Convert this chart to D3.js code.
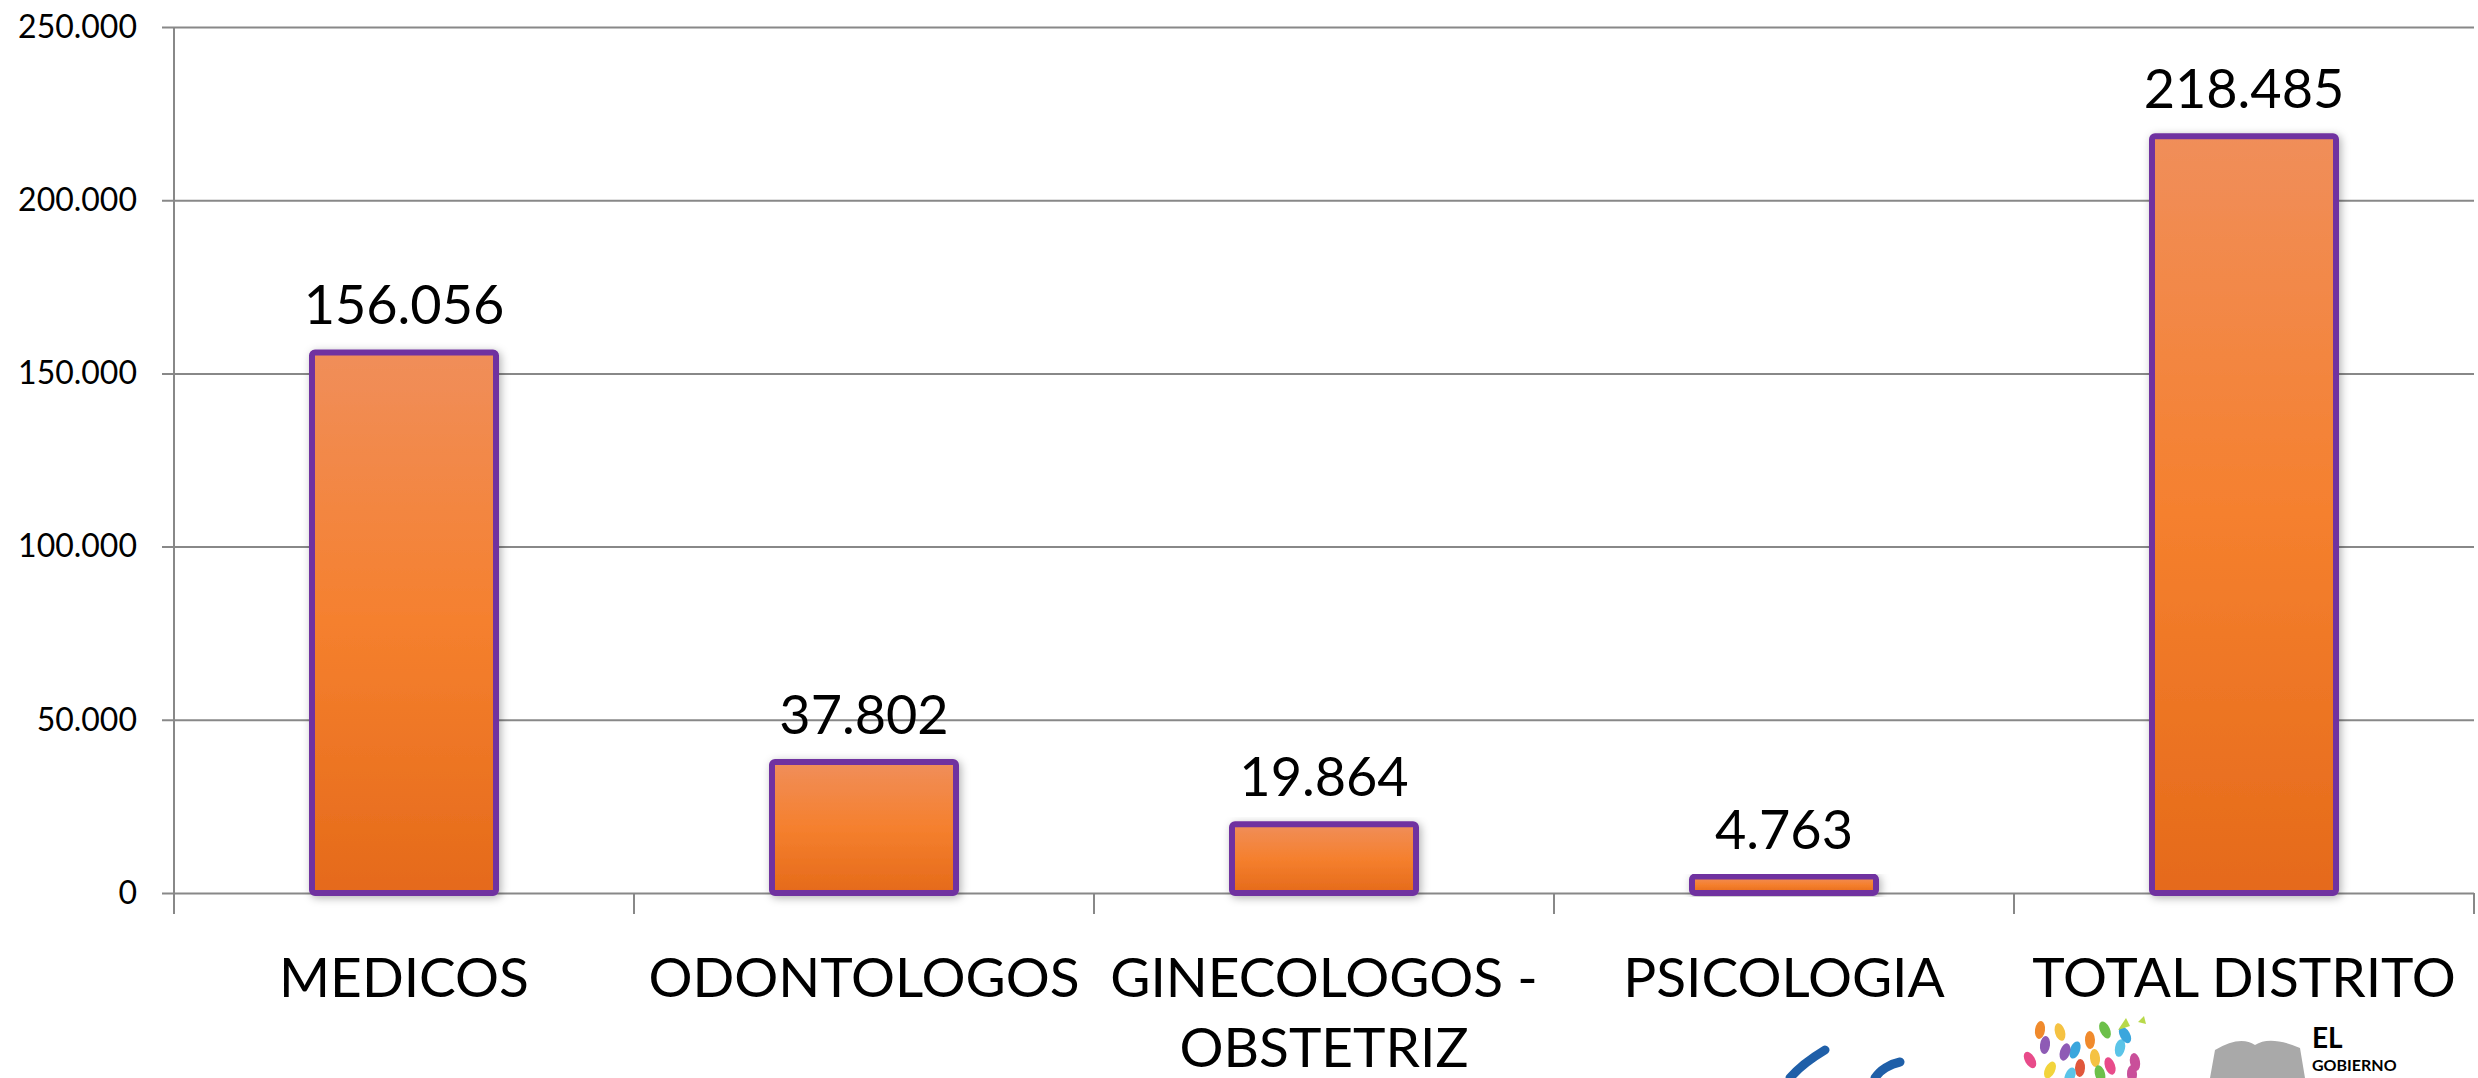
<!DOCTYPE html>
<html>
<head>
<meta charset="utf-8">
<script src="https://cdn.jsdelivr.net/npm/d3@7"></script>
<style>
  html, body { margin: 0; padding: 0; background: #fff; }
  svg { display: block; }
  text { font-family: Lato, "Open Sans", sans-serif; fill: #000; }
</style>
</head>
<body>
<svg id="chart" width="2478" height="1078"></svg>
<script>
// ---- data ----
const categories = ["MEDICOS", "ODONTOLOGOS", "GINECOLOGOS - OBSTETRIZ", "PSICOLOGIA", "TOTAL DISTRITO"];
const values = [156056, 37802, 19864, 4763, 218485];
const yTicks = [0, 50000, 100000, 150000, 200000, 250000];

(function () {
// ---- layout ----
const plotLeft = 174, plotRight = 2474, plotTop = 27, zeroY = 893;

const locale = d3.formatLocale({ decimal: ",", thousands: ".", grouping: [3], currency: ["", ""] });
const fmt = locale.format(",d");

const svg = d3.select("#chart");
const defs = svg.append("defs");

const grad = defs.append("linearGradient")
  .attr("id", "barGrad").attr("x1", 0).attr("y1", 0).attr("x2", 0).attr("y2", 1);
grad.append("stop").attr("offset", "0%").attr("stop-color", "#F08E5A");
grad.append("stop").attr("offset", "50%").attr("stop-color", "#F5802E");
grad.append("stop").attr("offset", "100%").attr("stop-color", "#E56A1A");

const shadow = defs.append("filter").attr("id", "shadow")
  .attr("x", "-10%").attr("y", "-10%").attr("width", "130%").attr("height", "130%");
shadow.append("feDropShadow").attr("dx", 2).attr("dy", 2).attr("stdDeviation", 4)
  .attr("flood-color", "#000").attr("flood-opacity", 0.3);

const y = d3.scaleLinear().domain([0, 250000]).range([zeroY, plotTop]);
const x = d3.scaleBand().domain(categories).range([plotLeft, plotRight])
  .paddingInner(0.6).paddingOuter(0.3);

const axisColor = "#888888";

// gridlines + y tick labels
const gy = svg.append("g").attr("transform", `translate(${plotLeft - 12},0)`)
  .call(d3.axisLeft(y).tickValues(yTicks).tickFormat(fmt)
    .tickSizeInner(-(plotRight - plotLeft + 12)).tickSizeOuter(0).tickPadding(25));
gy.select(".domain").remove();
gy.selectAll(".tick line").attr("stroke", axisColor).attr("stroke-width", 2);
gy.selectAll(".tick text")
  .style("font-family", "Lato, 'Open Sans', sans-serif")
  .style("font-size", "32px").attr("fill", "#000");

// y axis line
svg.append("line")
  .attr("x1", plotLeft).attr("x2", plotLeft).attr("y1", plotTop).attr("y2", zeroY + 21)
  .attr("stroke", axisColor).attr("stroke-width", 2);

// x axis category boundary ticks
const step = x.step();
const boundaries = categories.map(c => x(c) - step * x.paddingInner() / 2);
boundaries.push(x(categories[categories.length - 1]) + x.bandwidth() + step * x.paddingInner() / 2);
svg.append("g").selectAll("line").data(boundaries).join("line")
  .attr("x1", d => d).attr("x2", d => d)
  .attr("y1", zeroY).attr("y2", zeroY + 21)
  .attr("stroke", axisColor).attr("stroke-width", 2);

// category labels via axis
const gx = svg.append("g").attr("transform", `translate(0,${zeroY})`)
  .call(d3.axisBottom(x).tickSize(0).tickPadding(0));
gx.select(".domain").remove();
gx.selectAll(".tick text")
  .style("font-family", "Lato, 'Open Sans', sans-serif")
  .style("font-size", "55px").attr("fill", "#000")
  .attr("y", 104).attr("dy", 0)
  .each(function (d) {
    const t = d3.select(this);
    const words = d.split(" ");
    const maxW = step;
    t.text(null);
    let line = [];
    const lines = [];
    const tsp = t.append("tspan").attr("x", 0);
    words.forEach(w => {
      line.push(w);
      tsp.text(line.join(" "));
      if (tsp.node().getComputedTextLength() > maxW && line.length > 1) {
        line.pop();
        lines.push(line.join(" "));
        line = [w];
      }
    });
    lines.push(line.join(" "));
    t.text(null);
    lines.forEach((l, i) => {
      t.append("tspan").attr("x", 0).attr("y", 104 + i * 70).text(l);
    });
  });

// bars
svg.append("g").selectAll("rect").data(values).join("rect")
  .attr("x", (d, i) => x(categories[i]))
  .attr("width", x.bandwidth())
  .attr("y", d => y(d))
  .attr("height", d => y(0) - y(d))
  .attr("rx", 3).attr("ry", 3)
  .attr("fill", "url(#barGrad)")
  .attr("stroke", "#7030A0").attr("stroke-width", 6)
  .attr("filter", "url(#shadow)");

// value labels
svg.append("g").selectAll("text").data(values).join("text")
  .attr("x", (d, i) => x(categories[i]) + x.bandwidth() / 2)
  .attr("y", d => y(d) - 28)
  .attr("text-anchor", "middle")
  .style("font-size", "54px")
  .text(d => fmt(d));

// partial logos at bottom right (decorative)
const logos = svg.append("g");
logos.append("path")
  .attr("d", "M1790,1078 C1800,1066 1815,1056 1825,1050 M1875,1078 C1880,1070 1890,1064 1900,1062")
  .attr("stroke", "#1f5fa8").attr("stroke-width", 9).attr("fill", "none").attr("stroke-linecap", "round");
const leafColors = ["#e84b8a", "#8e5bb5", "#f5c242", "#3aa6dd", "#f08a2c", "#6cc04a", "#5bc4e8", "#c94f9a", "#f2d43c", "#e0573c"];
const leaves = [
  [2030, 1060], [2045, 1045], [2060, 1032], [2075, 1050], [2090, 1040], [2105, 1030], [2120, 1048],
  [2135, 1062], [2050, 1070], [2080, 1068], [2110, 1066], [2065, 1052], [2095, 1058], [2125, 1035],
  [2040, 1030], [2100, 1074], [2070, 1076], [2132, 1074]
];
logos.selectAll("ellipse").data(leaves).join("ellipse")
  .attr("cx", d => d[0]).attr("cy", d => d[1])
  .attr("rx", 5).attr("ry", 9)
  .attr("transform", (d, i) => `rotate(${(i * 37) % 60 - 30},${d[0]},${d[1]})`)
  .attr("fill", (d, i) => leafColors[i % leafColors.length]);
logos.append("path")
  .attr("d", "M2118,1030 l8,-12 l4,8 z M2138,1022 l6,-6 l2,8 z")
  .attr("fill", "#b8d94a");
logos.append("path")
  .attr("d", "M2210,1078 L2215,1050 Q2240,1035 2255,1045 Q2270,1035 2300,1048 L2305,1078 Z")
  .attr("fill", "#a9a9a9");
logos.append("text").attr("x", 2312).attr("y", 1048)
  .style("font-size", "28px").style("font-weight", "bold").attr("fill", "#8a8a8a").text("EL");
logos.append("text").attr("x", 2312).attr("y", 1071)
  .style("font-size", "16px").style("font-weight", "bold").attr("fill", "#8a8a8a").text("GOBIERNO");
})();
</script>
</body>
</html>
